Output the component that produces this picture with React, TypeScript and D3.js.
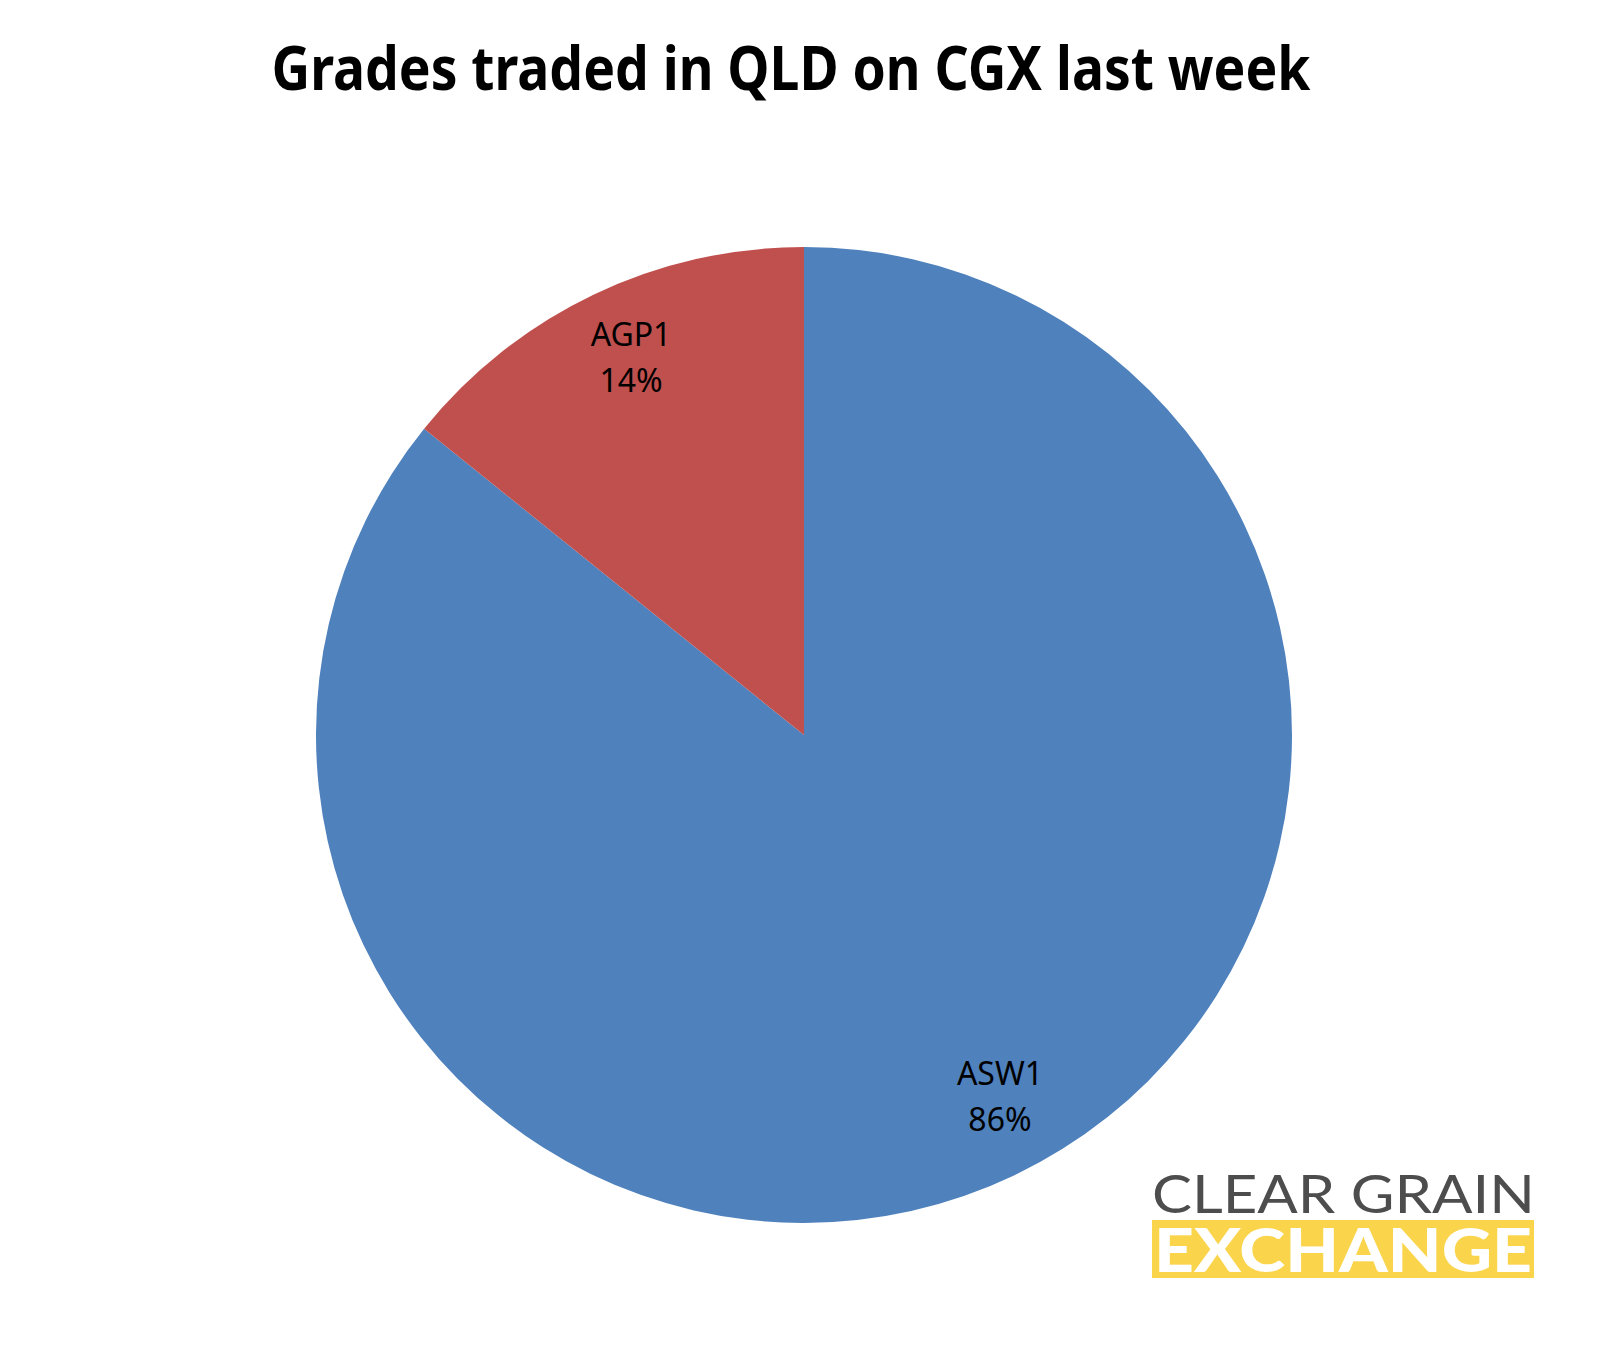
import React from "react";
import * as d3 from "d3";

const title = "Grades traded in QLD on CGX last week";
const grades = ["ASW1", "AGP1"];
const shares = [85.8, 14.2];
const sliceColors = ["#4F81BD", "#C0504D"];
// small label nudges (Excel best-fit placement)
const labelNudge = [
  [17, -12],
  [6, -3],
];

const W = 1609;
const H = 1351;
const cx = 804;
const cy = 735;
const R = 488;

export default function App() {
  const pie = d3.pie<number>().sort(null).value((d) => d)(shares);
  const arc = d3.arc<d3.PieArcDatum<number>>().innerRadius(0).outerRadius(R);
  const labelArc = d3
    .arc<d3.PieArcDatum<number>>()
    .innerRadius(R * 0.85)
    .outerRadius(R * 0.85);
  const total = d3.sum(shares);
  const fmt = (v: number) => `${Math.round((v / total) * 100)}%`;

  return (
    <div style={{ position: "absolute", left: 0, top: 0 }}>
      <svg width={W} height={H} style={{ display: "block", background: "#fff" }}>
        <text
          x={791}
          y={90}
          textAnchor="middle"
          fontFamily="'Noto Sans', sans-serif"
          fontWeight={700}
          fontSize={61}
          textLength={1039}
          lengthAdjust="spacingAndGlyphs"
          fill="#000"
        >
          {title}
        </text>
        <g transform={`translate(${cx},${cy})`}>
          {pie.map((p, i) => (
            <path key={grades[i]} d={arc(p) || ""} fill={sliceColors[i]} />
          ))}
          {pie.map((p, i) => {
            const [bx, by] = labelArc.centroid(p);
            const lx = bx + labelNudge[i][0];
            const ly = by + labelNudge[i][1];
            return (
              <text
                key={"l" + grades[i]}
                textAnchor="middle"
                fontFamily="'Noto Sans', sans-serif"
                fontSize={32}
                fill="#000"
              >
                <tspan x={lx} y={ly - 12}>
                  {grades[i]}
                </tspan>
                <tspan x={lx} y={ly + 34}>
                  {fmt(p.value)}
                </tspan>
              </text>
            );
          })}
        </g>
        <g>
          <text
            x={1152}
            y={1213}
            fontFamily="Lato, 'Open Sans', sans-serif"
            fontWeight={400}
            fontSize={52}
            textLength={383}
            lengthAdjust="spacingAndGlyphs"
            fill="#4D4D4D"
          >
            CLEAR GRAIN
          </text>
          <rect x={1152} y={1220} width={382} height={58} fill="#FAD44B" />
          <text
            x={1154}
            y={1272}
            fontFamily="Lato, 'Open Sans', sans-serif"
            fontWeight={900}
            fontSize={60}
            textLength={378}
            lengthAdjust="spacingAndGlyphs"
            fill="#fff"
          >
            EXCHANGE
          </text>
        </g>
      </svg>
    </div>
  );
}
